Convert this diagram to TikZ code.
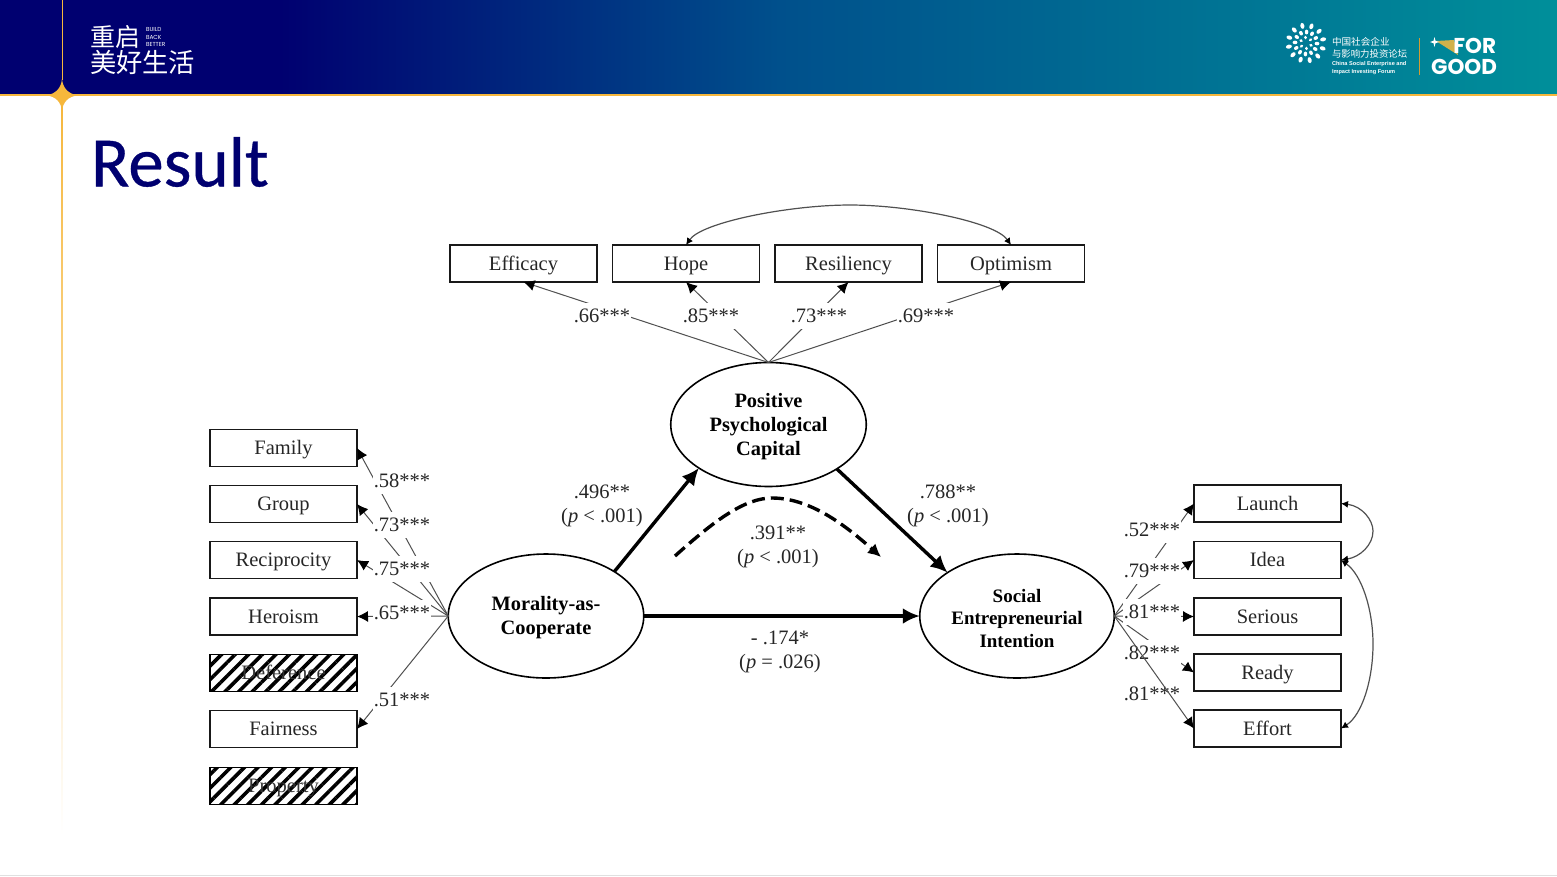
\documentclass[tikz,border=0pt]{standalone}
\usepackage{fontspec}
\setmainfont{Liberation Serif}
\newfontfamily\cjkf{Noto Sans CJK SC}
\newfontfamily\titlef[FakeBold=0.5]{Carlito}
\newfontfamily\logof{Poppins}
\newfontfamily\smallf{Liberation Sans}
\usetikzlibrary{arrows.meta,shapes.geometric,patterns.meta}
\definecolor{navyh}{HTML}{000070}
\definecolor{midh}{HTML}{00508C}
\definecolor{tealh}{HTML}{008F9A}
\definecolor{goldh}{HTML}{F6B73C}
\definecolor{linec}{HTML}{505050}
\newcommand\topfix{\rule{0pt}{18pt}}
\tikzset{
  x=1pt,y=-1pt,
  every node/.style={inner sep=0pt,outer sep=0pt},
  obs/.style={draw=black!90,line width=1.9pt,minimum width=147pt,minimum height=37pt,fill=white,font=\fontsize{20.5}{24}\selectfont,text=black!85,text height=14.5pt,text depth=1.5pt},
  hatchbox/.style={draw=black,line width=1.9pt,minimum width=147pt,minimum height=37pt,pattern={Lines[angle=45,distance=9.6pt,line width=3.6pt]},font=\fontsize{20.5}{24}\selectfont,text=black!80,text height=14.5pt,text depth=1.5pt},
  latent/.style={ellipse,draw=black,line width=1.6pt,minimum width=195.5pt,minimum height=124pt,font=\bfseries\fontsize{20.4}{24}\selectfont,align=center,fill=white},
  load/.style={draw=linec,line width=1pt,-{Latex[length=11pt,width=11pt,black]}},
  cov/.style={draw=linec,line width=1.2pt,{Latex[length=7pt,width=7pt,black]}-{Latex[length=7pt,width=7pt,black]}},
  path3/.style={draw=black,line width=3.4pt,-{Latex[length=17pt,width=16pt]}},
  coef/.style={fill=white,inner xsep=1pt,minimum height=26pt,font=\fontsize{20.5}{24}\selectfont,text=black!85},
  pathtxt/.style={font=\fontsize{20.5}{24}\selectfont,align=center,text=black!85},
  whitetxt/.style={text=white}
}
\begin{document}
\begin{tikzpicture}
\useasboundingbox (0,0) rectangle (1557,876);
\fill[white] (0,0) rectangle (1557,876);
% header band
\fill[navyh] (0,0) rectangle (280,95);
\shade[left color=navyh,right color=midh] (279.5,0) rectangle (780,95);
\shade[left color=midh,right color=tealh] (779.5,0) rectangle (1557,95);
\fill[goldh] (0,94.3) rectangle (1557,95.8);
\draw[goldh,line width=1pt] (62,0) -- (62,80);
\shade[top color=goldh,bottom color=white] (61.2,100) rectangle (62.8,835);
\fill[goldh] (46,95.3) .. controls (56,94) and (61,88) .. (62,79) .. controls (63,88) and (68,94) .. (78,95.3) .. controls (68,96.5) and (63,102) .. (62,111) .. controls (61,102) and (56,96.5) .. (46,95.3) -- cycle;
\draw[black!12,line width=0.8pt] (0,875) -- (1557,875);
% left logo
\node[whitetxt,anchor=west,font=\cjkf\fontsize{25}{26}\selectfont] (lg1) at (90,37) {重启};
\node[whitetxt,anchor=west,align=left,font=\logof\fontsize{5.8}{7.5}\selectfont] (lg2) at (146,37) {BUILD\\BACK\\BETTER};
\node[whitetxt,anchor=west,font=\cjkf\fontsize{26.3}{27}\selectfont] (lg3) at (90,62) {美好生活};
% right logo
\foreach \a in {0,30,...,330}{
  \fill[white,rotate around={\a+12:(1306,43)}] (1306,25.5) ellipse (2pt and 3pt);
  \fill[white,rotate around={\a+27:(1306,43)}] (1306,32) ellipse (1.8pt and 2.4pt);
}
\foreach \a in {0,60,...,300}{
  \fill[white,rotate around={\a+5:(1306,43)}] (1306,37.5) ellipse (1.5pt and 1.9pt);
}
\node[whitetxt,anchor=west,font=\cjkf\fontsize{9.6}{11}\selectfont] (r1) at (1332,42) {中国社会企业};
\node[whitetxt,anchor=west,font=\cjkf\fontsize{9.4}{11}\selectfont] (r2) at (1332,54) {与影响力投资论坛};
\node[whitetxt,anchor=west,font=\smallf\bfseries\fontsize{5.6}{7}\selectfont] (r3) at (1332,64.5) {China Social Enterprise and};
\node[whitetxt,anchor=west,font=\smallf\bfseries\fontsize{5.6}{7}\selectfont] (r4) at (1332,72) {Impact Investing Forum};
\fill[goldh!85!black] (1419,38) rectangle (1420.2,75);
\fill[goldh!85!tealh] (1436,41) -- (1454,40) -- (1458,55) -- cycle;
\fill[white] (1430,42) -- (1433.5,40.8) -- (1434.5,37) -- (1435.5,40.8) -- (1439,42) -- (1435.5,43.2) -- (1434.5,47) -- (1433.5,43.2) -- cycle;
\node[whitetxt,anchor=east,font=\logof\bfseries\fontsize{21.5}{22}\selectfont] (fg1) at (1496,46) {FOR};
\node[whitetxt,anchor=east,font=\logof\bfseries\fontsize{21.5}{22}\selectfont] (fg2) at (1497,67) {GOOD};
% title
\node[anchor=west,text=navyh,font=\titlef\fontsize{71}{72}\selectfont] (title) at (91,162) {Result};
% observed left
\node[obs] (fam) at (283.5,448) {Family};
\node[obs] (grp) at (283.5,504) {Group};
\node[obs] (rec) at (283.5,560) {Reciprocity};
\node[obs] (her) at (283.5,616.5) {Heroism};
\node[hatchbox] (def) at (283.5,673) {Deference};
\node[obs] (fai) at (283.5,729) {Fairness};
\node[hatchbox] (pro) at (283.5,786) {Property};
% observed top
\node[obs] (eff) at (523.5,263.5) {Efficacy};
\node[obs] (hop) at (686,263.5) {Hope};
\node[obs] (res) at (848.5,263.5) {Resiliency};
\node[obs] (opt) at (1011,263.5) {Optimism};
% observed right
\node[obs] (lau) at (1267.5,503.5) {Launch};
\node[obs] (ide) at (1267.5,560) {Idea};
\node[obs] (ser) at (1267.5,616.5) {Serious};
\node[obs] (rea) at (1267.5,672.5) {Ready};
\node[obs] (efo) at (1267.5,728.5) {Effort};
% latent
\node[latent] (mor) at (546,616) {\topfix Morality-as-\\Cooperate};
\node[latent] (ppc) at (768.5,424.5) {\topfix Positive\\Psychological\\Capital};
\node[latent,minimum width=194.5pt,font=\bfseries\fontsize{19}{22.5}\selectfont] (soc) at (1017,616) {\topfix Social\\Entrepreneurial\\Intention};
% loadings left
\draw[load] (mor.west) -- (fam.east);
\draw[load] (mor.west) -- (grp.east);
\draw[load] (mor.west) -- (rec.east);
\draw[load] (mor.west) -- (her.east);
\draw[load] (mor.west) -- (fai.east);
\node[coef] (l1) at (402,481) {.58***};
\node[coef] (l2) at (402,525) {.73***};
\node[coef] (l3) at (402,569) {.75***};
\node[coef] (l4) at (402,613) {.65***};
\node[coef] (l5) at (402,700) {.51***};
% loadings top
\draw[load] (ppc.north) -- (eff.south);
\draw[load] (ppc.north) -- (hop.south);
\draw[load] (ppc.north) -- (res.south);
\draw[load] (ppc.north) -- (opt.south);
\node[coef] (t1) at (602,316) {.66***};
\node[coef] (t2) at (711,316) {.85***};
\node[coef] (t3) at (819,316) {.73***};
\node[coef] (t4) at (926,316) {.69***};
% loadings right
\draw[load] (soc.east) -- (lau.west);
\draw[load] (soc.east) -- (ide.west);
\draw[load] (soc.east) -- (ser.west);
\draw[load] (soc.east) -- (rea.west);
\node[coef] (r11) at (1152,530) {.52***};
\node[coef] (r12) at (1152,571) {.79***};
\node[coef] (r13) at (1152,612) {.81***};
\node[coef] (r14) at (1152,653) {.82***};
\node[coef] (r15) at (1152,694) {.81***};
\draw[load] (soc.east) -- (efo.west);
% covariances
\draw[cov] (hop.north) .. controls (702,222) and (790,205) .. (850,205) .. controls (910,205) and (995,222) .. (opt.north);
\draw[cov] (lau.east) .. controls (1362,506) and (1373,520) .. (1373,531) .. controls (1373,545) and (1360,557) .. (ide.east);
\draw[cov] (ide.east) .. controls (1362,575) and (1373,610) .. (1373,644) .. controls (1373,680) and (1362,715) .. (efo.east);
% structural paths
\draw[path3] (mor.33) -- (ppc.212);
\draw[path3] (ppc.-33) -- (soc.148);
\draw[path3] (mor.east) -- (soc.west);
\coordinate (da) at (675,556);
\coordinate (db) at (881,557);
\draw[draw=black,line width=3.4pt,dash pattern=on 13pt off 6pt,-{Latex[length=13pt,width=13pt]}] (da) .. controls (715,520) and (745,498) .. (772,498) .. controls (810,498) and (845,525) .. (db);
% path labels
\node[pathtxt] (p1) at (602,506) {.496**\\(\textit{p} < .001)};
\node[pathtxt] (p2) at (948,506) {.788**\\(\textit{p} < .001)};
\node[pathtxt] (p3) at (778,546.5) {.391**\\(\textit{p} < .001)};
\node[pathtxt] (p4) at (780,652) {- .174*\\(\textit{p} = .026)};
\end{tikzpicture}
\end{document}
